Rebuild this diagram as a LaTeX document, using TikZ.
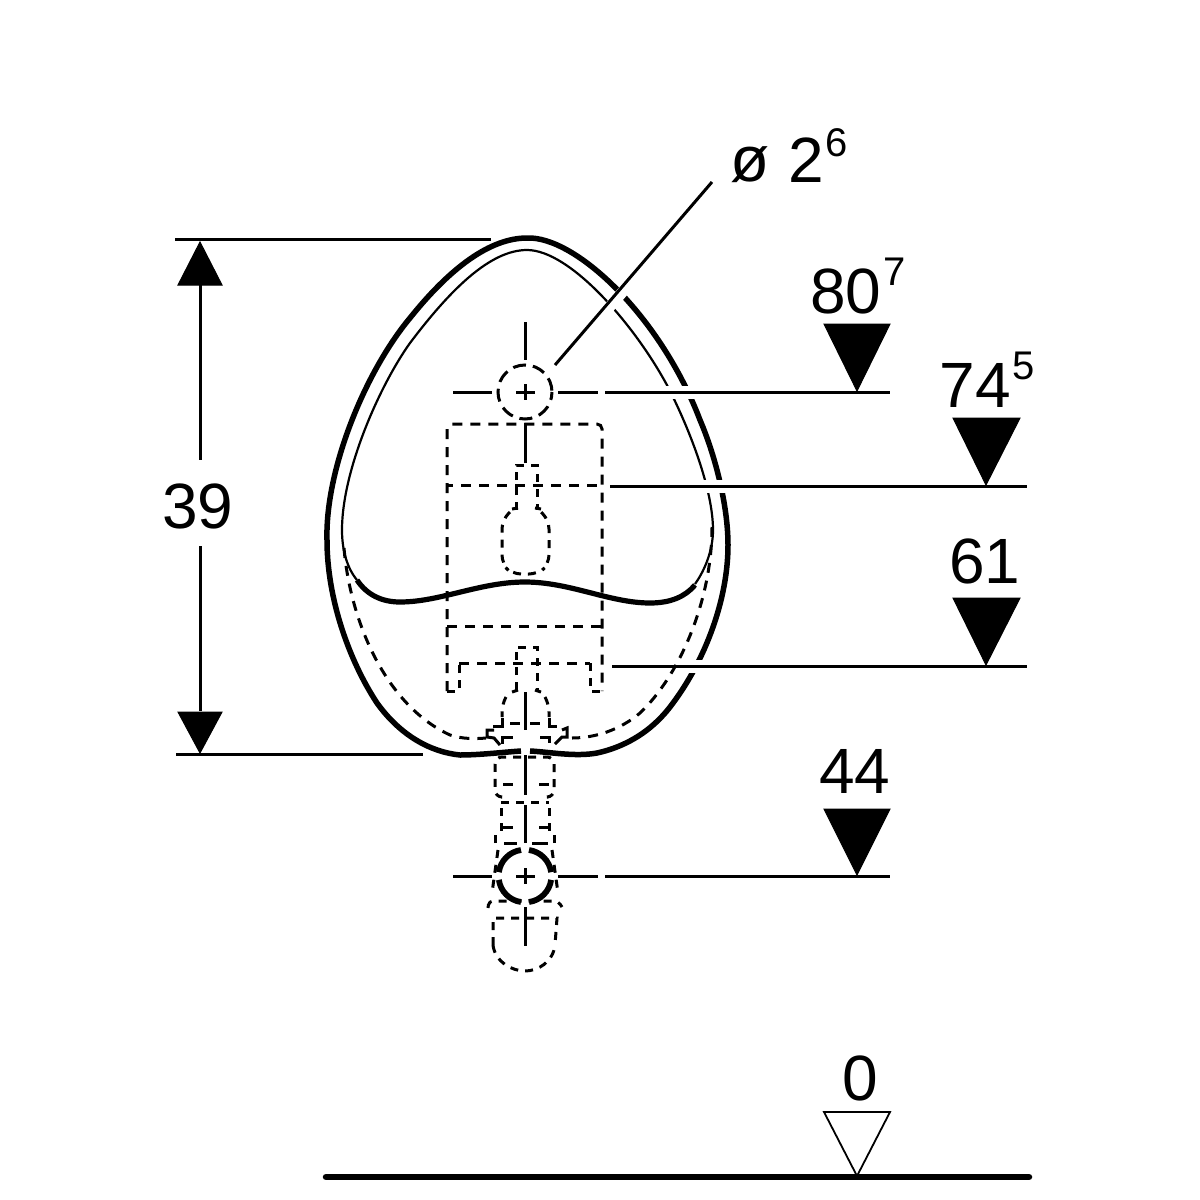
\documentclass[tikz,border=0pt]{standalone}
\usepackage{fontspec}
\setmainfont{Liberation Sans}
\tikzset{
 dim/.style={line width=3pt,black},
 halo/.style={white},
 egg/.style={line width=5.5pt,line join=round},
 thin line/.style={line width=2.2pt},
 dsh/.style={line width=3pt,dash pattern=on 10pt off 8pt},
 dshs/.style={line width=3pt,dash pattern=on 8pt off 7pt},
 seg/.style={line width=3pt},
 cen/.style={line width=3pt},
 lab/.style={font=\fontsize{64}{64}\selectfont,inner sep=0pt,anchor=center},
 sup/.style={font=\fontsize{40}{40}\selectfont,inner sep=0pt,anchor=center},
 tri/.style={fill=black,draw=black,line width=1pt,line join=miter},
}
\begin{document}
\begin{tikzpicture}[x=1pt,y=-1pt]
\useasboundingbox (0,0) rectangle (1200,1200);
\fill[white] (0,0) rectangle (1200,1200);
% outer body
\draw[egg] (521,751) .. controls (505,752) and (480,755) .. (460,755)
 .. controls (430,752) and (400,735) .. (377,703)
 .. controls (350,662) and (327,600) .. (327,540)
 .. controls (325,470) and (365,372) .. (410,318)
 .. controls (450,268) and (490,238) .. (527,238)
 .. controls (575,236) and (660,315) .. (700,420)
 .. controls (715,455) and (728,505) .. (728,545)
 .. controls (728,600) and (705,660) .. (673,703)
 .. controls (650,735) and (620,748) .. (597,753)
 .. controls (575,757) and (550,752) .. (530,751);
% inner thin rim
\draw[thin line] (357,580) .. controls (347,568) and (342,550) .. (342,530)
 .. controls (342,470) and (380,385) .. (410,343)
 .. controls (450,290) and (490,250) .. (527,250)
 .. controls (570,250) and (635,325) .. (668,387)
 .. controls (690,430) and (713,490) .. (713,530)
 .. controls (713,550) and (705,570) .. (695,584);
% water line
\draw[line width=5.2pt] (357,580) .. controls (367,595) and (382,602) .. (400,602)
 .. controls (440,602) and (480,582) .. (525,582)
 .. controls (570,582) and (610,603) .. (650,603)
 .. controls (670,603) and (685,597) .. (695,585);
% halos for crossing leaders
\draw[halo,line width=13pt] (640,392) -- (720,392);
\draw[halo,line width=13pt] (680,486) -- (740,486);
\draw[halo,line width=13pt] (680,666) -- (720,666);
\draw[halo,line width=11pt] (600,318) -- (632,281);
% dashed basin outline
\draw[dsh] (344,548) .. controls (350,620) and (385,705) .. (450,735) .. controls (462,739) and (475,739) .. (486,738);
\draw[dsh] (712,527) .. controls (712,600) and (680,675) .. (640,713) .. controls (620,730) and (595,738) .. (572,738);
% carrier frame
\draw[dsh,rounded corners=5pt] (447,691) -- (447,424) -- (602,424) -- (602,691);
\draw[dshs] (447,691) -- (459,691) -- (459,663) (590,663) -- (590,691) -- (602,691);
\draw[dsh] (459,663) -- (590,663);
\draw[dsh,dash phase=4pt] (447,485) -- (602,485);
\draw[dsh] (447,626) -- (602,626);
% stems and capsule
\draw[dshs] (516,510) -- (516,465) -- (537,465) -- (537,510);
\draw[seg] (512,509) -- (518,508) (535,508) -- (541,509);
\draw[dshs,rounded corners=9pt] (510,512) -- (502,520) -- (502,564) -- (512,574) -- (538,574) -- (549,564) -- (549,520) -- (541,512);
\draw[dshs] (516,690) -- (516,647) -- (537,647) -- (537,690);
% lower capsule and flange
\draw[seg] (512,692) -- (518,690) (535,690) -- (541,692);
\draw[dshs,rounded corners=8pt] (506,697) -- (502,704) -- (502,717);
\draw[dshs,rounded corners=8pt] (545,697) -- (549,704) -- (549,717);
\draw[seg] (493,726) -- (502,726) -- (502,718) (549,718) -- (549,726) -- (557,726);
\draw[seg] (510,723) -- (520,723) (530,723) -- (540,723);
\draw[seg] (494,730) -- (487,730) -- (487,737) -- (494,738) -- (500,745);
\draw[seg] (502,744) -- (502,737) -- (513,737) (540,737) -- (549,737) -- (549,743);
\draw[seg] (555,744) -- (562,737) -- (567,737) -- (567,728) -- (562,730);
% lower pipe
\draw[dshs,rounded corners=7pt] (501,797) -- (495,797) -- (495,757) -- (554,757) -- (554,797) -- (549,797);
\draw[dshs] (501,802) -- (549,802);
\draw[dshs] (501,808) -- (501,832) (549,808) -- (549,832);
\draw[dshs] (495,843) -- (495,832) (554,843) -- (554,832);
\draw[seg] (503,784) -- (513,784) (539,784) -- (549,784) (503,827) -- (513,827) (539,827) -- (549,827);
\draw[seg] (504,843) -- (517,843) (532,843) -- (548,843);
% siphon
\draw[dshs] (498,850) -- (492,893);
\draw[dshs] (552,850) -- (558,893);
\draw[dshs,rounded corners=4pt] (488,908) -- (489,901) -- (558,901) -- (562,907);
\draw[dshs] (493,945) -- (493,918) -- (557,918) -- (555,945);
\draw[dshs] (493,945) .. controls (495,962) and (512,971) .. (525,971) .. controls (538,971) and (553,962) .. (555,945);
% circles
\draw[line width=3pt,dash pattern=on 13pt off 7pt,dash phase=5pt] (525,392) circle[radius=27];
\draw[line width=5.8pt] (521,850) arc[start angle=-98,end angle=-172,radius=26];
\draw[line width=5.8pt] (529,850) arc[start angle=-82,end angle=-8,radius=26];
\draw[line width=5.8pt] (521,902) arc[start angle=98,end angle=172,radius=26];
\draw[line width=5.8pt] (529,902) arc[start angle=82,end angle=8,radius=26];
% centre lines
\draw[cen] (525,322) -- (525,360) (525,384) -- (525,400) (516,392) -- (535,392) (525,423) -- (525,463);
\draw[cen] (453,392) -- (492,392) (558,392) -- (598,392);
\draw[cen] (525,692) -- (525,730) (525,755) -- (525,795) (525,805) -- (525,843) (525,868) -- (525,884) (516,876) -- (535,876) (525,907) -- (525,946);
\draw[cen] (453,876) -- (492,876) (558,876) -- (598,876);
% dimension lines
\draw[dim] (605,392) -- (890,392);
\draw[dim] (610,486) -- (1027,486);
\draw[dim] (612,666) -- (1027,666);
\draw[dim] (605,876) -- (890,876);
\draw[dim] (175,239) -- (491,239);
\draw[dim] (176,754) -- (423,754);
\draw[dim] (200,285) -- (200,460) (200,546) -- (200,711);
\draw[dim] (555,365) -- (712,182);
% arrowheads
\fill[tri] (200,242) -- (222,285) -- (178,285) -- cycle;
\fill[tri] (200,753) -- (222,712) -- (178,712) -- cycle;
\fill[tri] (857,391) -- (824,324) -- (890,324) -- cycle;
\fill[tri] (986,485) -- (953,418) -- (1020,418) -- cycle;
\fill[tri] (986,665) -- (953,598) -- (1020,598) -- cycle;
\fill[tri] (857,875) -- (824,809) -- (890,809) -- cycle;
\draw[line width=1.8pt,line join=miter] (857,1176) -- (824,1112) -- (890,1112) -- cycle;
\draw[line width=6.5pt,line cap=round] (326,1177) -- (1029,1177);
% labels
\node[lab] (d39) at (198,506) {39};
\node[lab] (dphi) at (750,165) {ø};
\node[lab] (dtwo) at (806,160) {2};
\node[sup] (dsix) at (837,143) {6};
\node[lab] (l80) at (846,291) {80};
\node[sup] (s7) at (895,272) {7};
\node[lab] (l74) at (975,385) {74};
\node[sup] (s5) at (1024,366) {5};
\node[lab] (l61) at (985,561) {61};
\node[lab] (l44) at (855,771) {44};
\node[lab] (l0) at (860,1078) {0};
\end{tikzpicture}
\end{document}
